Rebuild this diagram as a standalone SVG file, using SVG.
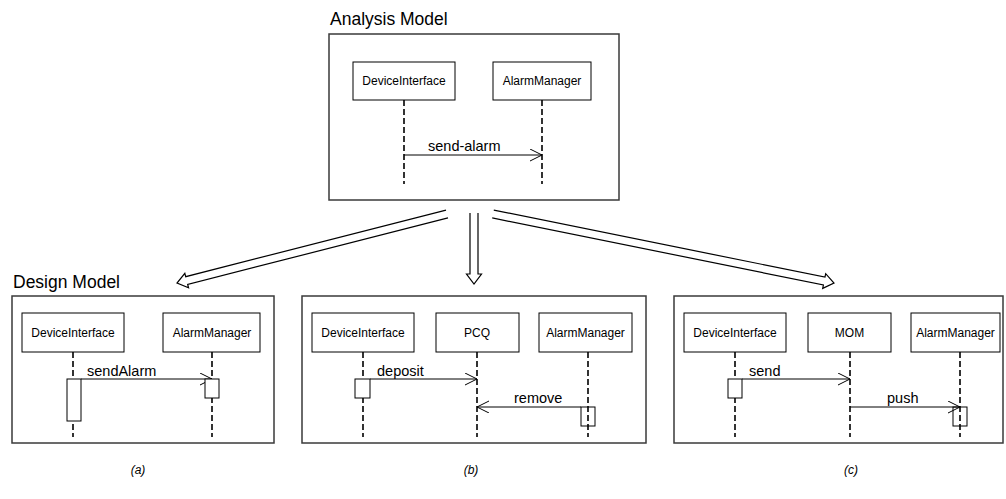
<svg xmlns="http://www.w3.org/2000/svg" width="1006" height="499" viewBox="0 0 1006 499">
<style>
text{font-family:"Liberation Sans",Arial,sans-serif;fill:#000}
.title{font-size:17.5px}
.obj{fill:#fff;stroke:#000;stroke-width:1}
.lbl{font-size:12px;text-anchor:middle}
.msgl{font-size:14.5px}
.life{stroke:#000;stroke-width:1.6;stroke-dasharray:6 3;fill:none}
.frame{fill:none;stroke:#3a3a3a;stroke-width:1.5}
.act{fill:#fff;stroke:#000;stroke-width:1}
.actn{fill:none;stroke:#000;stroke-width:1}
.msg{stroke:#000;stroke-width:1;fill:none;marker-end:url(#open)}
.big{fill:none;stroke:#000;stroke-width:1.2;stroke-linejoin:miter}
.cap{font-size:12px;font-style:italic;text-anchor:middle}
</style>
<defs>
<marker id="open" markerUnits="userSpaceOnUse" markerWidth="14" markerHeight="14" refX="12" refY="6" orient="auto">
<path d="M0,0 L12,6 L0,12" fill="none" stroke="#000" stroke-width="1"/>
</marker>
</defs>

<g id="connectors">
<line class="msg" x1="404" y1="155" x2="542" y2="155"/>
<line class="msg" x1="81" y1="379" x2="212" y2="379"/>
<line class="msg" x1="370" y1="379" x2="477" y2="379"/>
<line class="msg" x1="581" y1="407" x2="477" y2="407"/>
<line class="msg" x1="742" y1="379" x2="850" y2="379"/>
<line class="msg" x1="850" y1="407" x2="960" y2="407"/>
<path class="big" d="M447.99,217.88 L187.68,284.40 L188.55,287.79 L177,283 L184.83,273.25 L185.70,276.65 L446.01,210.13"/>
<path class="big" d="M470,213 L470,274 L466.5,274 L474,284 L481.5,274 L478,274 L478,213"/>
<path class="big" d="M493.79,210.08 L824.99,277.10 L825.69,273.67 L834,283 L822.71,288.37 L823.40,284.94 L492.21,217.92"/>
</g>

<g id="analysis-model">
<text class="title" x="330" y="25">Analysis Model</text>
<rect class="frame" x="329" y="34" width="290" height="166"/>
</g>
<g id="am-deviceinterface">
<line class="life" x1="404" y1="100" x2="404" y2="184"/>
<rect class="obj" x="353" y="62" width="102" height="38"/>
<text class="lbl" x="404" y="85">DeviceInterface</text>
</g>
<g id="am-alarmmanager">
<line class="life" x1="542" y1="100" x2="542" y2="184"/>
<rect class="obj" x="493" y="62" width="98" height="38"/>
<text class="lbl" x="542" y="85">AlarmManager</text>
</g>
<g id="msg-labels">
<text class="msgl" x="428" y="151">send-alarm</text>
<text class="msgl" x="87" y="376">sendAlarm</text>
<text class="msgl" x="377" y="376">deposit</text>
<text class="msgl" x="514" y="403">remove</text>
<text class="msgl" x="749" y="376">send</text>
<text class="msgl" x="887" y="403">push</text>
</g>

<g id="design-a">
<text class="title" x="13" y="288">Design Model</text>
<rect class="frame" x="12" y="296" width="262" height="147"/>
<text class="cap" x="138" y="474">(a)</text>
</g>
<g id="a-deviceinterface">
<line class="life" x1="73" y1="352" x2="73" y2="437"/>
<rect class="obj" x="22" y="313" width="102" height="39"/>
<text class="lbl" x="73" y="337">DeviceInterface</text>
<rect class="act" x="67" y="379" width="14" height="42"/>
</g>
<g id="a-alarmmanager">
<line class="life" x1="212" y1="352" x2="212" y2="437"/>
<rect class="obj" x="163" y="313" width="97" height="39"/>
<text class="lbl" x="212" y="337">AlarmManager</text>
<rect class="act" x="205" y="379" width="14" height="19"/>
</g>

<g id="design-b">
<rect class="frame" x="302" y="296" width="344" height="147"/>
<text class="cap" x="471" y="474">(b)</text>
</g>
<g id="b-deviceinterface">
<line class="life" x1="363" y1="352" x2="363" y2="437"/>
<rect class="obj" x="312" y="313" width="102" height="39"/>
<text class="lbl" x="363" y="337">DeviceInterface</text>
<rect class="act" x="355" y="379" width="15" height="19"/>
</g>
<g id="b-pcq">
<line class="life" x1="477" y1="352" x2="477" y2="437"/>
<rect class="obj" x="436" y="313" width="83" height="39"/>
<text class="lbl" x="477" y="337">PCQ</text>
</g>
<g id="b-alarmmanager">
<line class="life" x1="588" y1="352" x2="588" y2="437"/>
<rect class="obj" x="539" y="313" width="93" height="39"/>
<text class="lbl" x="585.5" y="337">AlarmManager</text>
<rect class="actn" x="581" y="407" width="14" height="19"/>
</g>

<g id="design-c">
<rect class="frame" x="674" y="296" width="329" height="147"/>
<text class="cap" x="851" y="474">(c)</text>
</g>
<g id="c-deviceinterface">
<line class="life" x1="735" y1="352" x2="735" y2="437"/>
<rect class="obj" x="684" y="313" width="102" height="39"/>
<text class="lbl" x="735" y="337">DeviceInterface</text>
<rect class="act" x="728" y="379" width="14" height="19"/>
</g>
<g id="c-mom">
<line class="life" x1="850" y1="352" x2="850" y2="437"/>
<rect class="obj" x="808" y="313" width="83" height="39"/>
<text class="lbl" x="849.5" y="337">MOM</text>
</g>
<g id="c-alarmmanager">
<line class="life" x1="960" y1="352" x2="960" y2="437"/>
<rect class="obj" x="911" y="313" width="89" height="39"/>
<text class="lbl" x="955.5" y="337">AlarmManager</text>
<rect class="actn" x="953" y="407" width="14" height="19"/>
</g>
</svg>
